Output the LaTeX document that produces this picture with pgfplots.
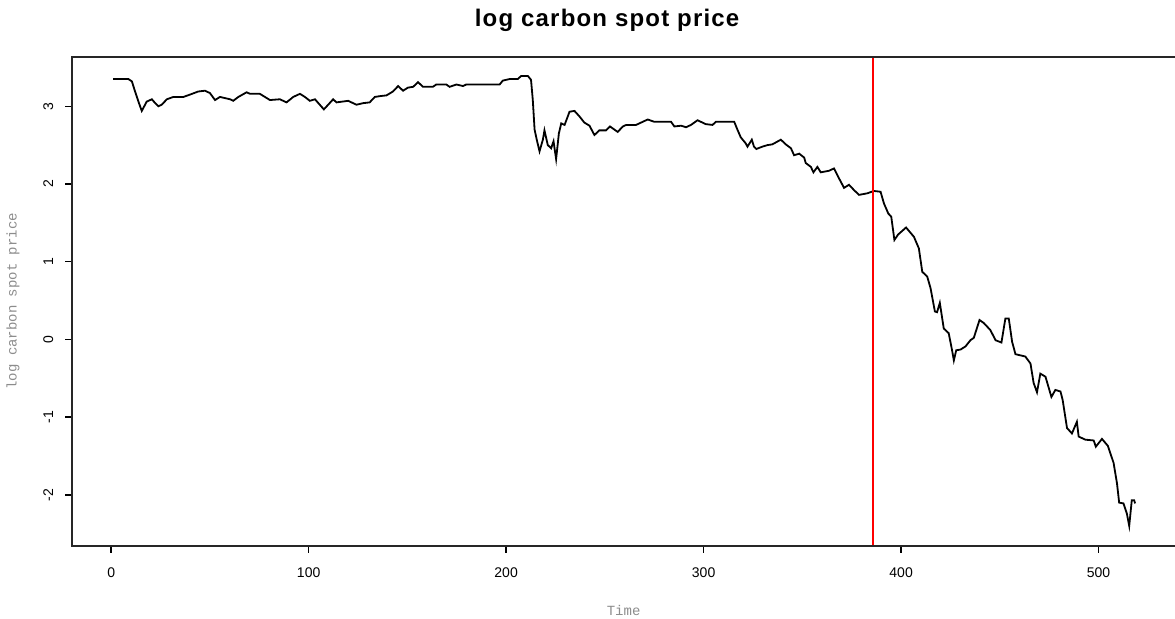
\documentclass[border=0pt]{standalone}
\usepackage{fontspec}
\setmainfont{Liberation Sans}
\newfontfamily\labfont{Liberation Mono}
\newfontfamily\titlefont[LetterSpace=5]{Liberation Sans}
\usepackage{pgfplots}
\pgfplotsset{compat=1.18}
\begin{document}
\begin{tikzpicture}
\useasboundingbox (-36.15pt,-36.65pt) rectangle (551.35pt,272.85pt);
\begin{axis}[
  scale only axis,
  width=551.35pt, height=244.35pt,
  xmin=-19.68, xmax=538.68,
  ymin=-2.654, ymax=3.634,
  axis line style={draw=none},
  xtick={0,100,200,300,400,500},
  ytick={-2,-1,0,1,2,3},
  yticklabels={-2,-1,0,1,2,3},
  xtick pos=bottom, ytick pos=left,
  tick align=outside,
  major tick length=3.5pt,
  tick style={black, line width=0.7pt},
  /pgf/number format/assume math mode=true,
  ticklabel style={font=\fontsize{7}{8}\selectfont},
  xticklabel style={anchor=center, yshift=-10pt},
  yticklabel style={rotate=90, anchor=center, yshift=8.5pt},
  title={log carbon spot price},
  title style={font=\titlefont\fontsize{12}{14}\selectfont\bfseries, at={(axis description cs:0.485,1)}, anchor=center, yshift=12.5pt},
  xlabel={Time},
  xlabel style={font=\labfont\fontsize{7}{8}\selectfont, text=black!45, at={(axis description cs:0.5,0)}, anchor=center, yshift=-32.65pt},
  ylabel={log carbon spot price},
  ylabel style={font=\labfont\fontsize{7}{8}\selectfont, text=black!45, at={(axis description cs:0,0.5)}, anchor=center, yshift=29.65pt},
  clip=false,
]
\addplot[black, line width=0.9pt, line join=miter] coordinates {
(1,3.35) (8.7,3.35) (10.5,3.32) (12.1,3.19) (13.8,3.06) (15.5,2.94) (18,3.06) (20.6,3.09) (22.3,3.04) (23.9,3.00) (25.6,3.02) (28.2,3.09) (31.5,3.12) (36.6,3.12) (39.9,3.15) (44.1,3.19) (47.5,3.20) (50,3.17) (52.6,3.08) (55.1,3.12) (60.2,3.09) (61.8,3.07) (64.4,3.12) (68.6,3.18) (70.3,3.16) (75.3,3.16) (80.4,3.08) (85.4,3.09) (88.8,3.05) (92.2,3.12) (95.6,3.16) (98.1,3.12) (100.6,3.07) (103.2,3.09) (107.7,2.96) (109.9,3.02) (112.4,3.09) (114.1,3.05) (120,3.07) (124.2,3.02) (127.6,3.04) (130.9,3.05) (133.5,3.12) (136,3.13) (139.4,3.14) (142.7,3.19) (145.3,3.26) (147.8,3.20) (150.3,3.24) (152.9,3.25) (155.4,3.31) (157.9,3.25) (162.9,3.25) (164.6,3.28) (169.7,3.28) (171.4,3.25) (174.8,3.28) (178.2,3.26) (179.8,3.28) (196.7,3.28) (198.3,3.33) (201.7,3.35) (205.9,3.35) (207.6,3.39) (211,3.39) (212.6,3.34) (213.5,3.08) (214.4,2.70) (215.5,2.57) (216.9,2.42) (218.6,2.57) (219.4,2.69) (221.1,2.50) (222.8,2.46) (224,2.55) (225.3,2.32) (226.7,2.65) (227.9,2.78) (229.6,2.76) (232.1,2.93) (234.6,2.94) (237.1,2.87) (239.6,2.79) (242.2,2.75) (244.7,2.63) (247.2,2.69) (250.6,2.69) (252.6,2.74) (254.8,2.70) (256.5,2.67) (259.1,2.74) (260.8,2.76) (265.8,2.76) (271.7,2.83) (275,2.80) (283.5,2.80) (285.2,2.74) (288.6,2.75) (291.1,2.73) (293.6,2.76) (296.9,2.82) (301.1,2.77) (304.5,2.76) (306.2,2.80) (315.5,2.80) (317.1,2.70) (318.8,2.60) (321.4,2.52) (322.2,2.48) (324.4,2.57) (325.5,2.48) (326.7,2.45) (329.7,2.48) (332.3,2.50) (334.8,2.51) (339.1,2.57) (341.6,2.51) (344.2,2.46) (345.8,2.37) (348.4,2.39) (350.9,2.34) (351.7,2.27) (354.3,2.22) (355.6,2.15) (357.6,2.22) (359.3,2.15) (363.5,2.17) (366,2.20) (368.6,2.07) (371.1,1.95) (373.6,1.99) (376.2,1.92) (378.7,1.86) (382.9,1.88) (386.2,1.91) (389.6,1.90) (391.3,1.75) (393.5,1.62) (395,1.58) (396.6,1.28) (398.5,1.35) (402.5,1.44) (406.5,1.32) (409,1.17) (410.7,0.87) (413.2,0.81) (414.9,0.66) (417.1,0.36) (418.2,0.35) (419.6,0.47) (421.6,0.14) (424.1,0.08) (425.8,-0.14) (426.7,-0.27) (427.9,-0.14) (430.1,-0.13) (432.6,-0.09) (435.1,-0.01) (436.8,0.02) (439.7,0.25) (441.9,0.21) (445.2,0.12) (447.8,-0.01) (450.8,-0.04) (452.8,0.27) (454.5,0.27) (456.2,-0.03) (457.9,-0.19) (462.9,-0.22) (465.5,-0.31) (467.1,-0.56) (468.8,-0.68) (470.5,-0.44) (473.1,-0.48) (476.1,-0.74) (478.1,-0.65) (480.7,-0.67) (481.8,-0.78) (484,-1.14) (486.5,-1.21) (489,-1.06) (489.9,-1.25) (493.3,-1.29) (497.5,-1.30) (498.6,-1.38) (501.7,-1.28) (504.7,-1.37) (507.6,-1.59) (509.3,-1.85) (510.4,-2.10) (512.6,-2.11) (514.3,-2.24) (515.5,-2.40) (516.8,-2.07) (518,-2.07) (518.5,-2.11)
};
\addplot[red, line width=1pt] coordinates {(386,-2.654) (386,3.634)};
\draw[black!85, line width=1pt] (rel axis cs:1,1) -- (rel axis cs:0,1) -- (rel axis cs:0,0) -- (rel axis cs:1,0);
\end{axis}
\end{tikzpicture}
\end{document}
